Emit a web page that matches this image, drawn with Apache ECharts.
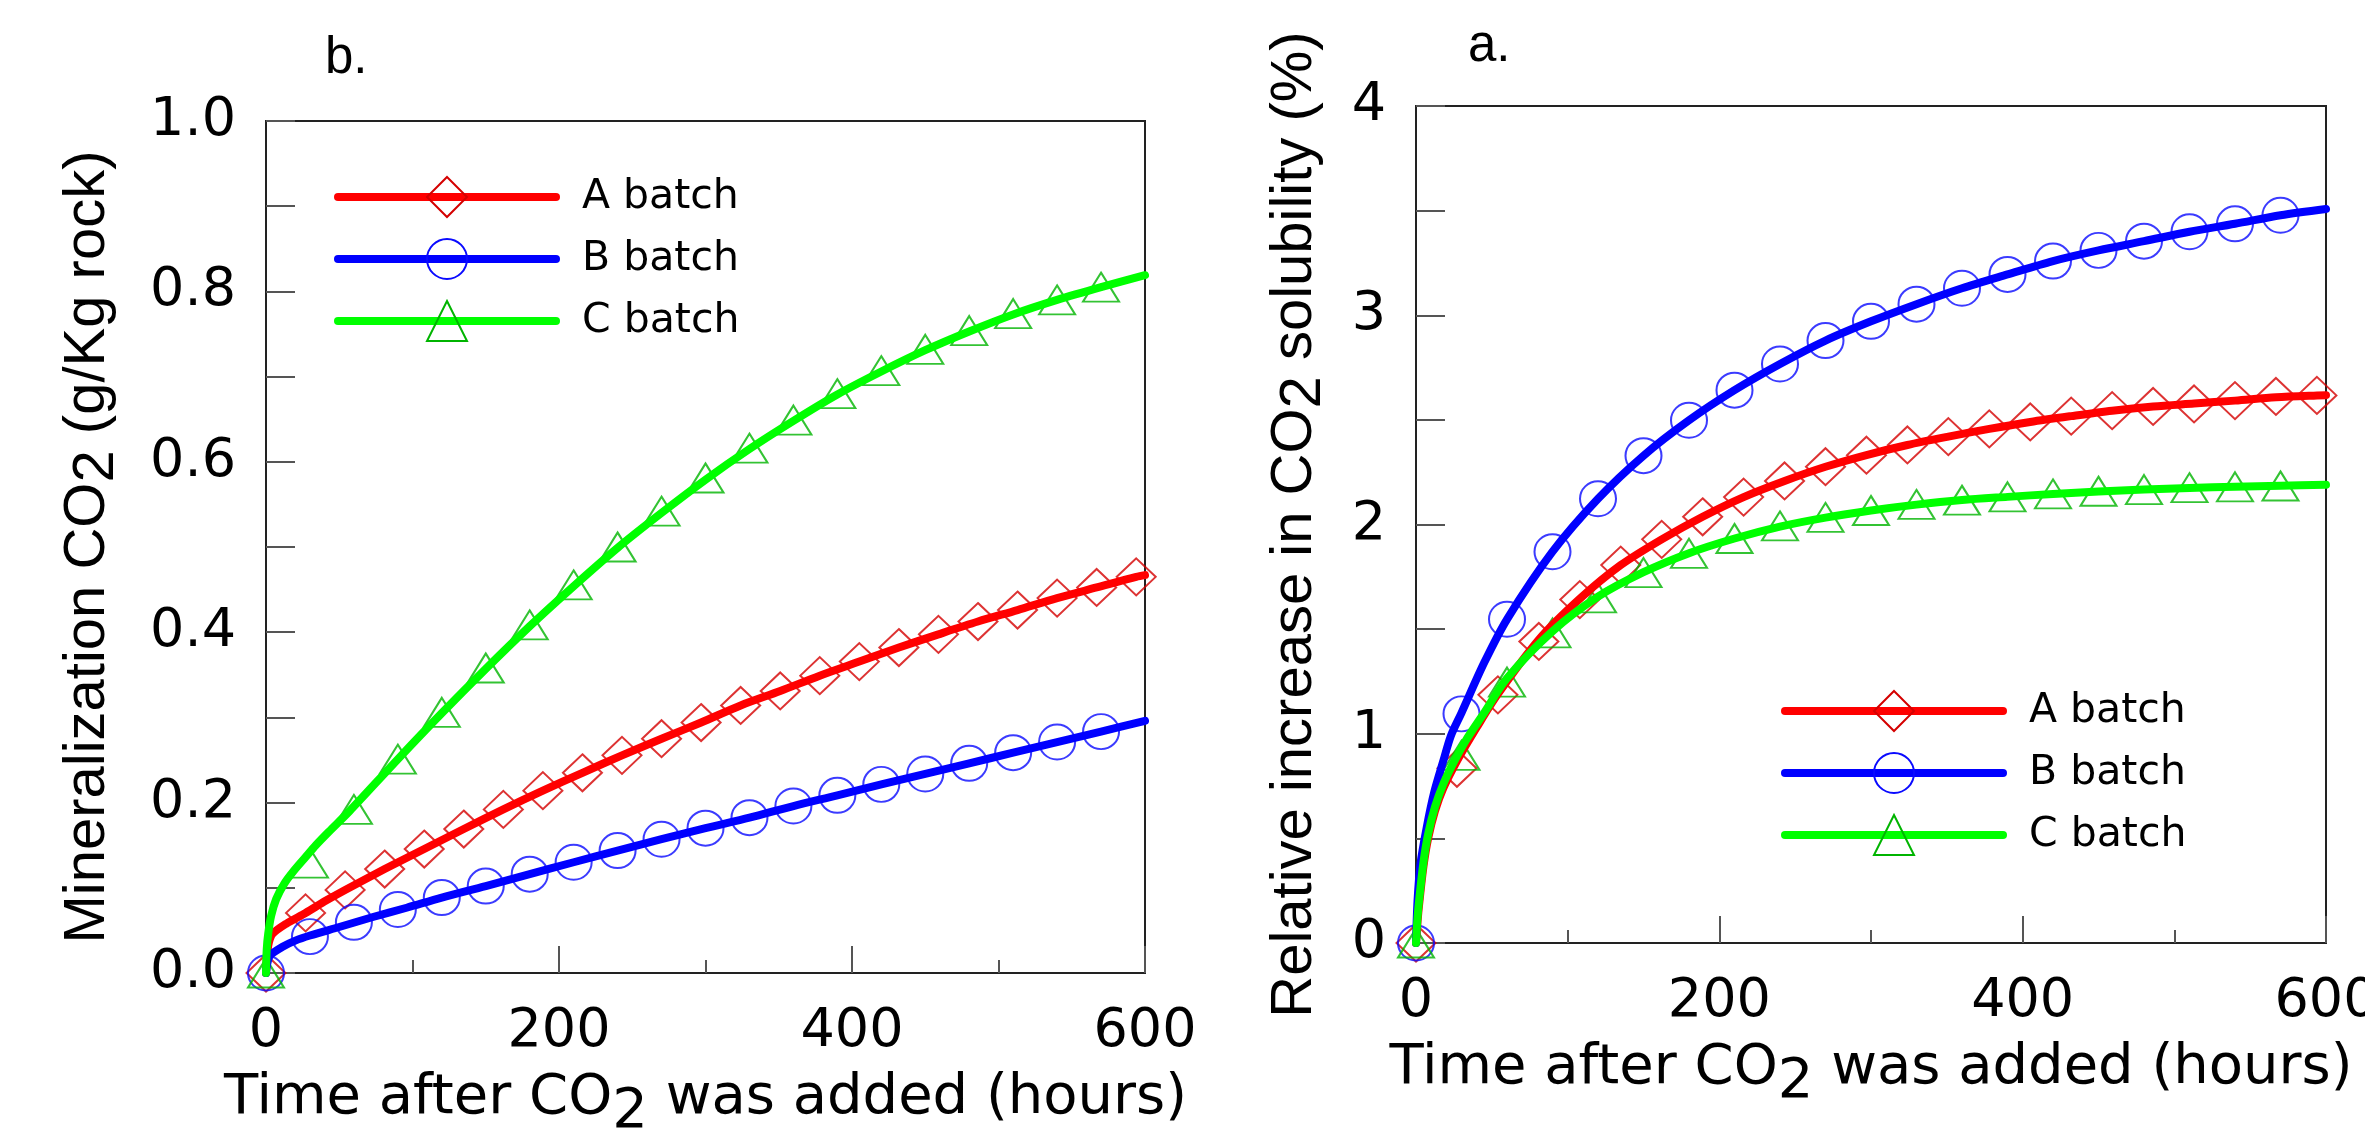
<!DOCTYPE html>
<html lang="en">
<head>
<meta charset="UTF-8">
<title>CO2 batch experiments</title>
<script src="https://cdn.jsdelivr.net/npm/echarts@6/dist/echarts.min.js"></script>
<style>
    html, body { margin: 0; padding: 0; background: #fff; }
    #main { width: 2365px; height: 1131px; }
</style>
</head>
<body>
<div id="main"></div>
<script>
// measured points: A batch every 27 h, B and C batch every 30 h
var markTime27 = [0, 27, 54, 81, 108, 135, 162, 189, 216, 243, 270, 297, 324, 351, 378, 405, 432, 459, 486, 513, 540, 567, 594];
var markTime30 = [0, 30, 60, 90, 120, 150, 180, 210, 240, 270, 300, 330, 360, 390, 420, 450, 480, 510, 540, 570];

// panel b - mineralization CO2 (g/Kg rock)
var bMarkA = [0, 0.0705, 0.0975, 0.122, 0.1455, 0.169, 0.192, 0.214, 0.235, 0.2555, 0.275, 0.294, 0.314, 0.331, 0.349, 0.3655, 0.382, 0.3975, 0.4125, 0.426, 0.44, 0.4525, 0.465];
var bMarkB = [0, 0.0427, 0.0595, 0.0745, 0.0885, 0.102, 0.116, 0.130, 0.1437, 0.157, 0.170, 0.1823, 0.196, 0.2085, 0.2214, 0.2336, 0.2461, 0.2586, 0.2711, 0.2833];
var bMarkC = [0, 0.129, 0.192, 0.251, 0.306, 0.358, 0.4085, 0.4555, 0.500, 0.542, 0.581, 0.616, 0.649, 0.680, 0.707, 0.732, 0.754, 0.774, 0.790, 0.805];

// panel b - fitted curves
var bLineTimeA = [0, 1, 2, 4.5, 14, 27, 41, 54, 81, 108, 135, 162, 189, 216, 243, 270, 297, 324, 351, 378, 405, 432, 459, 486, 513, 540, 567, 594, 600];
var bLineA = [0, 0.025, 0.036, 0.046, 0.058, 0.0705, 0.085, 0.0975, 0.122, 0.1455, 0.169, 0.192, 0.214, 0.235, 0.2555, 0.275, 0.294, 0.314, 0.331, 0.349, 0.3655, 0.382, 0.3975, 0.4125, 0.426, 0.44, 0.4525, 0.465, 0.467];
var bLineTimeB = [0, 1, 3, 11, 20, 30, 50, 73, 96, 120, 150, 180, 210, 240, 270, 300, 330, 360, 390, 420, 450, 480, 510, 540, 570, 600];
var bLineB = [0, 0.012, 0.021, 0.0305, 0.038, 0.044, 0.054, 0.0657, 0.0766, 0.0885, 0.102, 0.116, 0.130, 0.1437, 0.157, 0.170, 0.1823, 0.196, 0.2085, 0.2214, 0.2336, 0.2461, 0.2586, 0.2711, 0.2833, 0.296];
var bLineTimeC = [0, 0.5, 1.5, 3.5, 7, 12.5, 19, 27, 34, 43, 57, 90, 120, 150, 180, 210, 240, 270, 300, 330, 360, 390, 420, 450, 480, 510, 540, 570, 600];
var bLineC = [0, 0.028, 0.046, 0.067, 0.087, 0.105, 0.120, 0.136, 0.150, 0.166, 0.190, 0.251, 0.305, 0.357, 0.407, 0.454, 0.499, 0.540, 0.579, 0.615, 0.648, 0.679, 0.706, 0.731, 0.753, 0.773, 0.790, 0.805, 0.819];

// panel a - relative increase in CO2 solubility (%)
var aMarkA = [0, 0.835, 1.186, 1.441, 1.641, 1.806, 1.929, 2.037, 2.131, 2.208, 2.276, 2.331, 2.38, 2.42, 2.457, 2.49, 2.518, 2.544, 2.564, 2.576, 2.592, 2.612, 2.617];
var aMarkB = [0, 1.095, 1.547, 1.87, 2.123, 2.329, 2.498, 2.642, 2.767, 2.879, 2.971, 3.053, 3.129, 3.195, 3.259, 3.31, 3.354, 3.399, 3.437, 3.478];
var aMarkC = [0, 0.897, 1.247, 1.482, 1.649, 1.77, 1.862, 1.933, 1.993, 2.034, 2.067, 2.096, 2.116, 2.132, 2.146, 2.159, 2.167, 2.176, 2.18, 2.184];

// panel a - fitted curves
var aLineTimeA = [0, 1, 2, 5, 8, 12.5, 18, 27, 40, 54, 81, 108, 135, 162, 189, 216, 243, 270, 297, 324, 351, 378, 405, 432, 459, 486, 513, 540, 567, 594, 600];
var aLineA = [0, 0.1, 0.18, 0.37, 0.5, 0.63, 0.74, 0.87, 1.03, 1.19, 1.45, 1.645, 1.806, 1.929, 2.037, 2.131, 2.208, 2.276, 2.332, 2.38, 2.42, 2.457, 2.49, 2.518, 2.544, 2.564, 2.578, 2.592, 2.608, 2.617, 2.618];
var aLineTimeB = [0, 1, 3, 7, 12, 18, 23, 30, 45, 60, 90, 120, 150, 180, 210, 240, 270, 300, 330, 360, 390, 420, 450, 480, 510, 540, 570, 600];
var aLineB = [0, 0.2, 0.38, 0.55, 0.72, 0.87, 0.99, 1.10, 1.34, 1.547, 1.87, 2.123, 2.329, 2.498, 2.642, 2.767, 2.879, 2.971, 3.053, 3.129, 3.195, 3.259, 3.31, 3.354, 3.399, 3.437, 3.478, 3.508];
var aLineTimeC = [0, 1, 2, 5, 8, 12.5, 18, 25, 33, 45, 60, 90, 120, 150, 180, 210, 240, 270, 300, 330, 360, 390, 420, 450, 480, 510, 540, 570, 600];
var aLineC = [0, 0.12, 0.2, 0.39, 0.52, 0.65, 0.76, 0.866, 0.97, 1.10, 1.265, 1.49, 1.655, 1.772, 1.863, 1.933, 1.99, 2.033, 2.067, 2.095, 2.117, 2.132, 2.146, 2.158, 2.167, 2.175, 2.18, 2.185, 2.19];

var batchNames = ['A batch', 'B batch', 'C batch'];
var xTitle = '{t|Time after CO}{s|2}{t| was added (hours)}';

var myChart = echarts.init(document.getElementById('main'));

function pairs(ts, vs) {
    return ts.map(function (t, i) { return [t, vs[i]]; });
}

// style per batch
var batchStyle = [
    { line: '#ff0000', mark: '#d40000', symbol: 'diamond', size: [39, 37] },
    { line: '#0000ff', mark: '#0a0aff', symbol: 'circle', size: [36, 35] },
    { line: '#00ff00', mark: '#00b400', symbol: 'triangle', size: [36, 29] }
];

function curve(k, grid, ts, vs) {
    var st = batchStyle[k];
    return {
        type: 'line',
        name: batchNames[k],
        xAxisIndex: grid,
        yAxisIndex: grid,
        data: pairs(ts, vs),
        smooth: 0.3,
        showSymbol: false,
        symbol: st.symbol,
        symbolSize: st.size,
        clip: false,
        lineStyle: { color: st.line, width: 8, cap: 'round', join: 'round' },
        itemStyle: { color: 'transparent', borderColor: st.mark, borderWidth: 2 },
        emphasis: { disabled: true },
        animation: false
    };
}

function marks(k, grid, ts, vs) {
    var st = batchStyle[k];
    return {
        type: 'scatter',
        name: batchNames[k],
        xAxisIndex: grid,
        yAxisIndex: grid,
        data: pairs(ts, vs),
        symbol: st.symbol,
        symbolSize: st.size,
        clip: false,
        itemStyle: { color: 'transparent', borderColor: st.mark, borderWidth: 2 },
        emphasis: { disabled: true },
        animation: false
    };
}

function xAxisFor(grid) {
    return {
        type: 'value',
        gridIndex: grid,
        min: 0,
        max: 600,
        interval: 200,
        name: xTitle,
        nameLocation: 'middle',
        nameGap: 83,
        nameTextStyle: {
            rich: {
                t: { fontFamily: 'DejaVu Sans', fontSize: 56, color: '#000' },
                s: { fontFamily: 'DejaVu Sans', fontSize: 56, color: '#000', padding: [28, 0, 0, 0] }
            }
        },
        axisLine: { show: true, lineStyle: { color: '#222', width: 2 } },
        axisTick: { show: true, inside: true, length: 27, lineStyle: { color: '#555', width: 2 } },
        minorTick: { show: true, splitNumber: 2, length: 13, lineStyle: { color: '#555', width: 2 } },
        axisLabel: { margin: 32, fontFamily: 'DejaVu Sans', fontSize: 54, color: '#000' },
        splitLine: { show: false }
    };
}

function yAxisFor(grid, max, interval, name, gap, fmt) {
    return {
        type: 'value',
        gridIndex: grid,
        min: 0,
        max: max,
        interval: interval,
        name: name,
        nameLocation: 'middle',
        nameRotate: 90,
        nameGap: gap,
        nameTextStyle: {
            rich: {
                t: { fontFamily: 'Liberation Sans', fontSize: 58, color: '#000' },
                s: { fontFamily: 'Liberation Sans', fontSize: 58, color: '#000', padding: [18, 0, 0, 0] }
            }
        },
        axisLine: { show: true, lineStyle: { color: '#222', width: 2 } },
        axisTick: { show: true, inside: true, length: 29, lineStyle: { color: '#555', width: 2 } },
        minorTick: { show: true, splitNumber: 2, length: 29, lineStyle: { color: '#555', width: 2 } },
        axisLabel: { margin: 30, fontFamily: 'DejaVu Sans', fontSize: 54, color: '#000', formatter: fmt },
        splitLine: { show: false }
    };
}

function legendAt(left, top) {
    return {
        data: batchNames,
        orient: 'vertical',
        left: left,
        top: top,
        padding: 0,
        itemWidth: 218,
        itemHeight: 50,
        itemGap: 20,
        lineStyle: { width: 8, cap: 'round' },
        itemStyle: { borderWidth: 2 },
        textStyle: { fontFamily: 'DejaVu Sans', fontSize: 41, color: '#000', padding: [0, 0, 0, 21] },
        selectedMode: false
    };
}

var option = {
    animation: false,
    backgroundColor: '#fff',
    title: [
        { text: 'b.', left: 320, top: 28, textStyle: { fontFamily: 'Liberation Sans', fontSize: 51, fontWeight: 'normal', color: '#000' } },
        { text: 'a.', left: 1463, top: 16, textStyle: { fontFamily: 'Liberation Sans', fontSize: 51, fontWeight: 'normal', color: '#000' } }
    ],
    grid: [
        { left: 266, top: 121, width: 879, height: 852, show: true, borderColor: '#222', borderWidth: 2, outerBoundsMode: 'none' },
        { left: 1416, top: 106, width: 910, height: 837, show: true, borderColor: '#222', borderWidth: 2, outerBoundsMode: 'none' }
    ],
    legend: [legendAt(334, 176), legendAt(1781, 690)],
    xAxis: [xAxisFor(0), xAxisFor(1)],
    yAxis: [
        yAxisFor(0, 1, 0.2, '{t|Mineralization CO}{s|2}{t| (g/Kg rock)}', 140, function (v) { return v.toFixed(1); }),
        yAxisFor(1, 4, 1, '{t|Relative increase in CO}{s|2}{t| solubility (%)}', 83, function (v) { return String(Math.round(v)); })
    ],
    series: [
        curve(0, 0, bLineTimeA, bLineA), marks(0, 0, markTime27, bMarkA),
        curve(1, 0, bLineTimeB, bLineB), marks(1, 0, markTime30, bMarkB),
        curve(2, 0, bLineTimeC, bLineC), marks(2, 0, markTime30, bMarkC),
        curve(0, 1, aLineTimeA, aLineA), marks(0, 1, markTime27, aMarkA),
        curve(1, 1, aLineTimeB, aLineB), marks(1, 1, markTime30, aMarkB),
        curve(2, 1, aLineTimeC, aLineC), marks(2, 1, markTime30, aMarkC)
    ]
};

myChart.setOption(option);
</script>
</body>
</html>
